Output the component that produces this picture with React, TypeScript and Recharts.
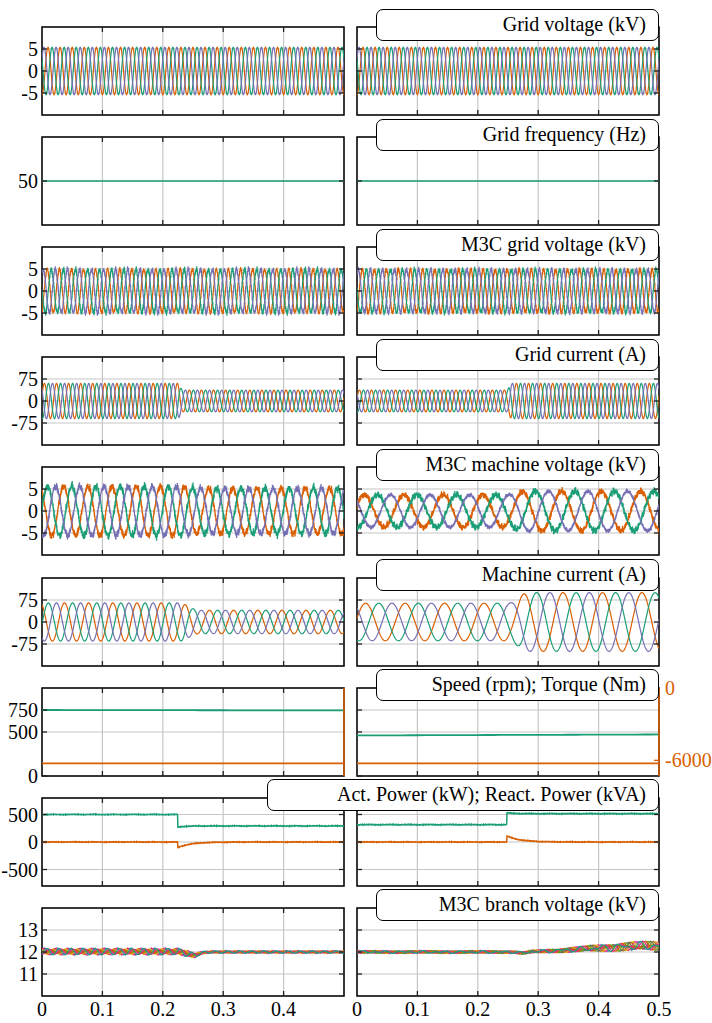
import React from "react";
import { LineChart, Line, XAxis, YAxis, CartesianGrid, ReferenceArea, ReferenceLine } from "recharts";

const FONT = "Liberation Serif, DejaVu Serif, serif";
const GREEN = "#1b9e77";
const ORANGE = "#d95f02";
const PURPLE = "#7570b3";
const PHASE_KEYS = ["a", "b", "c"];
const PHASE_COLORS = [ORANGE, GREEN, PURPLE];
const BRANCH_KEYS = ["b0", "b1", "b2", "b3", "b4", "b5", "b6", "b7", "b8"];
const BRANCH_COLORS = ["#7570b3", "#e7298a", "#e6ab02", "#a6761d", "#666666", "#66a61e", "#d95f02", "#e7298a", "#1b9e77"];

// ---- time axis ----
const T_END = 0.5;
const TIME_TICKS = [0, 0.1, 0.2, 0.3, 0.4, 0.5];
const TIME_LABELS = [[0, 0.1, 0.2, 0.3, 0.4], [0, 0.1, 0.2, 0.3, 0.4, 0.5]];

// ---- panels ----
const PANEL_TITLES = [
  "Grid voltage (kV)",
  "Grid frequency (Hz)",
  "M3C grid voltage (kV)",
  "Grid current (A)",
  "M3C machine voltage (kV)",
  "Machine current (A)",
  "Speed (rpm); Torque (Nm)",
  "Act. Power (kW); React. Power (kVA)",
  "M3C branch voltage (kV)",
];
const Y_TICKS = [[-5, 0, 5], [50], [-5, 0, 5], [-75, 0, 75], [-5, 0, 5], [-75, 0, 75], [0, 500, 750], [-500, 0, 500], [11, 12, 13]];
const Y_DOMAINS = [[-10, 10], [49, 51], [-10, 10], [-150, 150], [-10, 10], [-150, 150], [0, 1000], [-800, 800], [10, 14]];
const TORQUE_TICKS = [-6000, 0];
const TORQUE_DOMAIN = [-7300, 0];

// ---- operating points: [left case, right case] ----
const GRID_FREQ_HZ = [50, 50];
const MACHINE_FREQ_HZ = [25, 15.3];
const STEP_T = [0.225, 0.248];
const GRID_V_KV = [5.4, 5.4];
const M3C_GRID_V_KV = [4.9, 4.9];
const GRID_I_BEFORE_A = [60, 37];
const GRID_I_AFTER_A = [37, 60];
const MACH_V_BEFORE_KV = [5.6, 3.7];
const MACH_V_AFTER_KV = [5.2, 4.5];
const MACH_I_BEFORE_A = [65, 64];
const MACH_I_AFTER_A = [40, 100];
const SPEED_START_RPM = [750, 461];
const SPEED_END_RPM = [745, 472];
const TORQUE_NM = [-6250, -6250];
const P_BEFORE_KW = [500, 315];
const P_AFTER_KW = [292, 515];
const P_OVERSHOOT_KW = [-22, 15];
const Q_PEAK_KVA = [-100, 110];
const BRANCH_MEAN_START_KV = [12.02, 12.0];
const BRANCH_MEAN_END_KV = [12.0, 12.28];
const BRANCH_RIPPLE_BEFORE_KV = [0.15, 0.06];
const BRANCH_RIPPLE_AFTER_KV = [0.05, 0.22];
const BRANCH_DIP_KV = [-0.15, -0.05];
// high-frequency switching ripple components: [Hz, weight, phase]
const RIPPLE_COMPONENTS = [[1170, 0.45, 0.3], [1830, 0.35, 1.1], [2630, 0.3, 2.4], [3410, 0.25, 0.7], [4470, 0.2, 1.6]];

// ---- layout ----
const COL_X = [42, 357];
const PLOT_W = 302;
const PLOT_H = 88;
const ROW_TOP0 = 27;
const ROW_STEP = 110.1;
const TITLE_LEFT = [376, 376, 376, 376, 376, 376, 376, 267, 376];

const TWO_PI = Math.PI * 2;
const PHASE_SHIFT = [0, -TWO_PI / 3, TWO_PI / 3];
const times = (n: number) => Array.from({ length: n + 1 }, (_, i) => (i * T_END) / n);
const smoothStep = (t: number, t0: number, t1: number) => {
  if (t <= t0) return 0;
  if (t >= t1) return 1;
  const u = (t - t0) / (t1 - t0);
  return u * u * (3 - 2 * u);
};
const mix = (a: number, b: number, s: number) => a + (b - a) * s;
const ripple = (t: number, k: number) =>
  RIPPLE_COMPONENTS.reduce((s, [f, w, p]) => s + w * Math.sin(TWO_PI * f * t + p * (k + 1) * 1.9), 0);

function threePhase(n: number, seed: number, freq: number, amp: (t: number) => number, phase0: number, fuzz?: number[]) {
  return times(n).map((t) => {
    const r: any = { t };
    PHASE_KEYS.forEach((k, i) => {
      r[k] = amp(t) * Math.sin(TWO_PI * freq * t + phase0 + PHASE_SHIFT[i]) + (fuzz ? fuzz[i] * ripple(t, i + seed) : 0);
    });
    return r;
  });
}

function buildCase(c: number) {
  const ts = STEP_T[c];
  const gridV = threePhase(800, 0, GRID_FREQ_HZ[c], () => GRID_V_KV[c], -Math.PI / 2);
  const freq = times(2).map((t) => ({ t, f: GRID_FREQ_HZ[c] }));
  const m3cGridV = threePhase(1800, 3 + c, GRID_FREQ_HZ[c], () => M3C_GRID_V_KV[c], -Math.PI / 2 + 0.4, [0.7, 0.7, 0.75]);
  const gridI = threePhase(700, 0, GRID_FREQ_HZ[c], (t) => mix(GRID_I_BEFORE_A[c], GRID_I_AFTER_A[c], smoothStep(t, ts, ts + 0.008)), 0.3);
  const machV = threePhase(
    1800, 6 + c, MACHINE_FREQ_HZ[c],
    (t) => mix(MACH_V_BEFORE_KV[c], MACH_V_AFTER_KV[c], smoothStep(t, ts, ts + 0.03)),
    c === 0 ? 2.2 : 0.4,
    c === 0 ? [0.85, 0.9, 0.8] : [0.75, 0.8, 0.45]
  );
  const machI = threePhase(
    700, 0, MACHINE_FREQ_HZ[c],
    (t) => mix(MACH_I_BEFORE_A[c], MACH_I_AFTER_A[c], smoothStep(t, ts + 0.002, ts + 0.035)),
    c === 0 ? 2.0 : 0.2
  );
  const speed = times(40).map((t) => ({
    t,
    n: mix(SPEED_START_RPM[c], SPEED_END_RPM[c], t / T_END),
    m: TORQUE_NM[c],
  }));
  const power = times(900).map((t) => {
    const after = t >= ts;
    const dt = t - ts;
    const p = after ? P_AFTER_KW[c] + P_OVERSHOOT_KW[c] * Math.exp(-dt / 0.012) : P_BEFORE_KW[c];
    const q = after ? Q_PEAK_KVA[c] * Math.exp(-dt / 0.022) : 0;
    return { t, p: p + 7 * ripple(t, 1), q: q + 6 * ripple(t, 4) };
  });
  const branch = times(800).map((t) => {
    const r: any = { t };
    const settle = smoothStep(t, ts + 0.01, ts + 0.05);
    const mean =
      c === 0
        ? mix(BRANCH_MEAN_START_KV[c], BRANCH_MEAN_END_KV[c], settle) + BRANCH_DIP_KV[c] * Math.exp(-(((t - 0.25) / 0.014) ** 2))
        : BRANCH_MEAN_START_KV[c] + (BRANCH_MEAN_END_KV[c] - BRANCH_MEAN_START_KV[c]) * smoothStep(t, 0.255, 0.5) +
          BRANCH_DIP_KV[c] * Math.exp(-(((t - 0.275) / 0.01) ** 2));
    const amp =
      c === 0
        ? mix(BRANCH_RIPPLE_BEFORE_KV[c], BRANCH_RIPPLE_AFTER_KV[c], settle)
        : mix(BRANCH_RIPPLE_BEFORE_KV[c], BRANCH_RIPPLE_AFTER_KV[c], smoothStep(t, 0.26, 0.5));
    BRANCH_KEYS.forEach((k, i) => {
      const phi = (i * TWO_PI) / 9;
      r[k] =
        mean +
        amp * (0.55 * Math.sin(TWO_PI * 2 * MACHINE_FREQ_HZ[c] * t + phi) + 0.45 * Math.sin(TWO_PI * GRID_FREQ_HZ[c] * t + 2 * phi)) +
        0.02 * ripple(t, i);
    });
    return r;
  });
  return [gridV, freq, m3cGridV, gridI, machV, machI, speed, power, branch];
}

const CASES = [buildCase(0), buildCase(1)];

type LineSpec = { key: string; color: string; width: number; axis?: string };
const PANEL_LINES: LineSpec[][] = [
  PHASE_KEYS.map((k, i) => ({ key: k, color: PHASE_COLORS[i], width: 1.2 })),
  [{ key: "f", color: GREEN, width: 1.6 }],
  PHASE_KEYS.map((k, i) => ({ key: k, color: PHASE_COLORS[i], width: 1.2 })),
  PHASE_KEYS.map((k, i) => ({ key: k, color: PHASE_COLORS[i], width: 1.2 })),
  PHASE_KEYS.map((k, i) => ({ key: k, color: PHASE_COLORS[i], width: 1.3 })),
  PHASE_KEYS.map((k, i) => ({ key: k, color: PHASE_COLORS[i], width: 1.2 })),
  [
    { key: "n", color: GREEN, width: 1.8 },
    { key: "m", color: ORANGE, width: 1.6, axis: "torque" },
  ],
  [
    { key: "p", color: GREEN, width: 1.5 },
    { key: "q", color: ORANGE, width: 1.5 },
  ],
  BRANCH_KEYS.map((k, i) => ({ key: k, color: BRANCH_COLORS[i], width: 1.1 })),
];

const tickFont = { fontSize: 20, fontFamily: FONT, fill: "#000" };

function Panel({ row, col }: { row: number; col: number }) {
  const data = CASES[col][row];
  const lines = PANEL_LINES[row];
  const plotX = COL_X[col];
  const top = ROW_TOP0 + ROW_STEP * row;
  const showY = col === 0;
  const torqueAxis = row === 6 && col === 1;
  const lastRow = row === 8;
  const yAxisW = showY ? 42 : 0;
  const rAxisW = torqueAxis ? 56 : 0;
  const margin = { top: 12, right: torqueAxis ? 0 : 16, bottom: 12, left: col === 0 ? 0 : 16 };
  const xAxisH = lastRow ? 30 : 0;
  const width = margin.left + yAxisW + PLOT_W + rAxisW + margin.right;
  const height = margin.top + PLOT_H + xAxisH + margin.bottom;
  const [ymin, ymax] = Y_DOMAINS[row];
  const dx = (5 / PLOT_W) * T_END;
  const dy = (5 / PLOT_H) * (ymax - ymin);
  const inner = TIME_TICKS.slice(1, -1);
  return (
    <div style={{ position: "absolute", left: plotX - yAxisW - margin.left, top: top - margin.top }}>
      <LineChart width={width} height={height} data={data} margin={margin} style={{ fontFamily: FONT }}>
        <CartesianGrid yAxisId="left" stroke="#c6c6c6" strokeWidth={1.2} />
        <XAxis
          dataKey="t"
          type="number"
          domain={[0, T_END]}
          ticks={lastRow ? TIME_LABELS[col] : TIME_TICKS}
          hide={!lastRow}
          height={xAxisH}
          interval={0}
          tickLine={false}
          axisLine={false}
          tickSize={0}
          tickMargin={6}
          tick={tickFont}
          allowDataOverflow
        />
        <YAxis
          yAxisId="left"
          type="number"
          domain={Y_DOMAINS[row]}
          ticks={Y_TICKS[row]}
          hide={!showY}
          width={42}
          interval={0}
          tickLine={false}
          axisLine={false}
          tickSize={0}
          tickMargin={4}
          tick={tickFont}
          allowDataOverflow
        />
        {row === 6 && (
          <YAxis
            yAxisId="torque"
            orientation="right"
            type="number"
            domain={TORQUE_DOMAIN}
            ticks={TORQUE_TICKS}
            hide={!torqueAxis}
            width={56}
            interval={0}
            tickLine={false}
            axisLine={false}
            tickSize={0}
            tickMargin={6}
            tick={{ ...tickFont, fill: ORANGE }}
          />
        )}
        {lines.map((l) => (
          <Line
            key={l.key}
            dataKey={l.key}
            yAxisId={l.axis || "left"}
            stroke={l.color}
            strokeWidth={l.width}
            dot={false}
            activeDot={false}
            type="linear"
            isAnimationActive={false}
          />
        ))}
        {inner.map((x) => (
          <ReferenceLine key={"tt" + x} yAxisId="left" segment={[{ x, y: ymax }, { x, y: ymax - dy }]} stroke="#222" strokeWidth={1.3} />
        ))}
        {inner.map((x) => (
          <ReferenceLine key={"tb" + x} yAxisId="left" segment={[{ x, y: ymin }, { x, y: ymin + dy }]} stroke="#222" strokeWidth={1.3} />
        ))}
        {Y_TICKS[row].map((y) => (
          <ReferenceLine key={"yl" + y} yAxisId="left" segment={[{ x: 0, y }, { x: dx, y }]} stroke="#222" strokeWidth={1.3} />
        ))}
        {row !== 6 &&
          Y_TICKS[row].map((y) => (
            <ReferenceLine key={"yr" + y} yAxisId="left" segment={[{ x: T_END, y }, { x: T_END - dx, y }]} stroke="#222" strokeWidth={1.3} />
          ))}
        {torqueAxis &&
          TORQUE_TICKS.map((y) => (
            <ReferenceLine key={"qr" + y} yAxisId="torque" segment={[{ x: T_END, y }, { x: T_END - dx, y }]} stroke={ORANGE} strokeWidth={1.3} />
          ))}
        <ReferenceArea yAxisId="left" x1={0} x2={T_END} y1={ymin} y2={ymax} fill="none" stroke="#000" strokeWidth={1.5} ifOverflow="visible" />
        {row === 6 && <ReferenceLine yAxisId="left" x={T_END} stroke={ORANGE} strokeWidth={1.6} />}
      </LineChart>
    </div>
  );
}

function TitleBox({ row }: { row: number }) {
  const top = ROW_TOP0 + ROW_STEP * row;
  const left = TITLE_LEFT[row];
  return (
    <div
      style={{
        position: "absolute",
        left,
        top: top - 18.5,
        width: COL_X[1] + PLOT_W - left,
        height: 32,
        boxSizing: "border-box",
        border: "1.5px solid #000",
        borderRadius: 7,
        background: "#fff",
        fontFamily: FONT,
        fontSize: 20,
        lineHeight: "28px",
        textAlign: "right",
        paddingRight: 12,
        whiteSpace: "nowrap",
        color: "#000",
        zIndex: 5,
      }}
    >
      {PANEL_TITLES[row]}
    </div>
  );
}

export default function App() {
  const rows = PANEL_TITLES.map((_, i) => i);
  return (
    <div style={{ position: "absolute", left: 0, top: 0, width: 712, height: 1023, background: "#fff", overflow: "hidden", fontFamily: FONT }}>
      {rows.map((r) => (
        <React.Fragment key={r}>
          <Panel row={r} col={0} />
          <Panel row={r} col={1} />
        </React.Fragment>
      ))}
      {rows.map((r) => (
        <TitleBox key={"t" + r} row={r} />
      ))}
    </div>
  );
}
